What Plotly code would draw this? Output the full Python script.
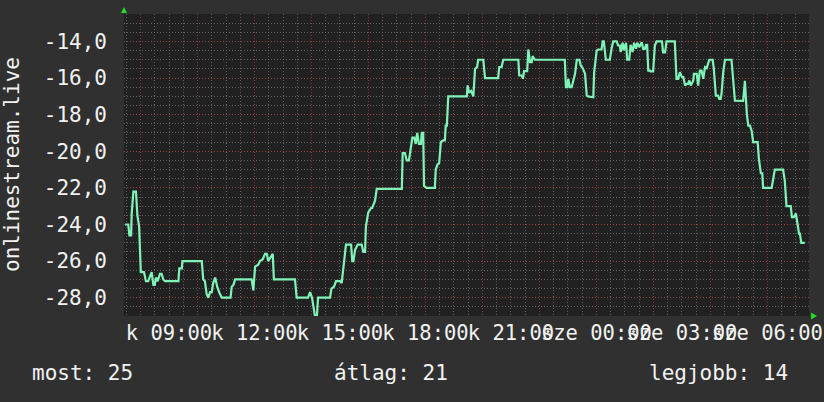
import plotly.graph_objects as go

# time in hours since Tuesday 00:00 (values > 24 are Wednesday)
hours = [7.46, 7.57, 7.61, 7.67, 7.69, 7.75, 7.84, 7.89, 7.95, 8.01, 8.12, 8.19, 8.27, 8.33, 8.39,
         8.45, 8.50, 8.54, 8.60, 8.68, 8.74, 8.80, 8.86, 9.33, 9.36, 9.45, 9.47, 10.15, 10.20, 10.26,
         10.32, 10.38, 10.44, 10.50, 10.55, 10.62, 10.69, 10.76, 10.85, 11.16, 11.20, 11.26, 11.32,
         11.90, 11.96, 12.02, 12.13, 12.19, 12.29, 12.37, 12.43, 12.48, 12.57, 12.64, 12.68, 13.42,
         13.48, 13.88, 13.95, 14.02, 14.12, 14.19, 14.23, 14.65, 14.70, 14.79, 14.86, 15.00, 15.06,
         15.11, 15.21, 15.39, 15.43, 15.47, 15.53, 15.62, 15.76, 15.82, 15.88, 15.91, 15.99, 16.09,
         16.13, 16.23, 16.29, 17.17, 17.20, 17.28, 17.34, 17.42, 17.49, 17.54, 17.61, 17.66, 17.71,
         17.77, 17.84, 17.87, 17.92, 17.95, 18.04, 18.33, 18.36, 18.43, 18.48, 18.54, 18.62, 18.68,
         18.71, 18.75, 18.80, 19.45, 19.48, 19.53, 19.60, 19.68, 19.74, 19.81, 19.85, 20.03, 20.09,
         20.55, 20.59, 20.67, 20.73, 21.26, 21.29, 21.39, 21.42, 21.46, 21.57, 21.61, 21.67, 21.73,
         21.76, 21.81, 21.84, 22.89, 22.93, 22.98, 23.01, 23.07, 23.13, 23.19, 23.25, 23.31, 23.40,
         23.45, 23.52, 23.60, 23.66, 23.71, 23.89, 23.92, 24.01, 24.06, 24.18, 24.22, 24.26, 24.33,
         24.47, 24.53, 24.59, 24.71, 24.76, 24.82, 24.85, 24.92, 24.96, 25.04, 25.08, 25.15, 25.20,
         25.27, 25.32, 25.39, 25.43, 25.50, 25.59, 25.64, 25.70, 25.74, 25.78, 25.82, 25.88, 25.90,
         25.99, 26.05, 26.11, 26.30, 26.34, 26.41, 26.46, 26.75, 26.81, 26.87, 26.93, 27.00, 27.05,
         27.11, 27.16, 27.22, 27.26, 27.31, 27.40, 27.42, 27.52, 27.57, 27.63, 27.69, 27.75, 27.81,
         27.87, 27.96, 28.08, 28.12, 28.19, 28.27, 28.31, 28.36, 28.39, 28.45, 28.51, 28.74, 28.80,
         28.86, 29.15, 29.21, 29.28, 29.33, 29.39, 29.45, 29.50, 29.66, 29.70, 29.77, 29.82, 29.85,
         30.15, 30.20, 30.26, 30.55, 30.61, 30.67, 30.82, 30.86, 30.93, 31.00, 31.05, 31.11, 31.14,
         31.19, 31.31]

values = [-24.0, -24.0, -24.6, -24.6, -23.4, -22.2, -22.2, -23.5, -24.1, -26.6, -26.6, -27.1, -27.1,
          -26.8, -26.6, -27.3, -27.3, -26.9, -27.1, -26.7, -26.7, -27.0, -27.1, -27.1, -26.4, -26.4,
          -26.0, -26.0, -27.0, -27.1, -27.8, -28.0, -27.7, -27.7, -27.2, -26.9, -27.4, -27.7, -28.0,
          -28.0, -27.4, -27.3, -27.0, -27.0, -27.6, -26.3, -26.2, -26.0, -25.9, -25.6, -25.6, -26.0,
          -25.8, -25.6, -27.0, -27.0, -28.0, -28.0, -27.7, -28.0, -29.0, -29.0, -28.0, -28.0, -27.5,
          -27.4, -27.1, -27.1, -27.2, -26.6, -25.1, -25.1, -26.0, -26.0, -25.4, -25.1, -25.1, -25.5,
          -25.5, -24.1, -23.35, -23.1, -23.1, -22.7, -22.05, -22.05, -20.1, -20.1, -20.5, -20.5, -19.9,
          -19.25, -19.25, -19.6, -19.0, -19.6, -19.6, -19.0, -19.0, -21.9, -22.0, -22.0, -21.0, -20.7,
          -20.65, -19.5, -19.4, -19.4, -18.6, -18.6, -17.0, -17.0, -16.4, -16.8, -16.7, -17.0, -15.5,
          -15.4, -15.0, -15.0, -16.0, -16.0, -15.4, -15.4, -15.0, -15.0, -15.86, -15.86, -16.04, -15.62,
          -15.62, -14.44, -15.13, -15.13, -14.8, -14.91, -15.0, -15.0, -16.5, -16.5, -16.04, -16.5,
          -16.5, -16.13, -15.77, -15.0, -15.0, -15.31, -15.46, -15.77, -16.96, -17.0, -17.05, -15.68,
          -14.49, -14.44, -14.44, -14.0, -14.0, -15.0, -15.0, -14.4, -14.0, -14.0, -14.22, -14.22,
          -14.58, -14.07, -14.49, -14.07, -15.0, -15.0, -14.18, -14.58, -14.07, -14.4, -14.07, -14.31,
          -14.04, -14.4, -14.4, -14.18, -14.18, -15.59, -15.59, -15.64, -15.64, -14.22, -14.0, -14.0,
          -14.6, -14.6, -14.0, -14.0, -16.04, -16.04, -15.68, -15.95, -15.95, -16.41, -16.32, -16.32,
          -16.13, -16.41, -16.13, -15.77, -15.77, -16.41, -15.59, -15.59, -16.04, -15.4, -15.46, -15.0,
          -15.0, -15.5, -16.96, -16.96, -17.14, -17.14, -16.86, -15.68, -15.0, -15.0, -16.04, -17.23,
          -17.25, -16.15, -18.0, -18.6, -18.6, -18.9, -19.5, -19.5, -20.4, -21.2, -21.2, -22.0, -22.0,
          -21.6, -21.0, -21.0, -21.6, -23.0, -23.0, -23.6, -23.6, -23.4, -23.95, -24.5, -24.5, -25.0,
          -25.0]

x_tick_vals = [9, 12, 15, 18, 21, 24, 27, 30]
x_tick_text = ["k 09:00", "k 12:00", "k 15:00", "k 18:00", "k 21:00",
               "sze 00:00", "sze 03:00", "sze 06:00"]
y_tick_vals = [-28, -26, -24, -22, -20, -18, -16, -14]
y_tick_text = ["-28,0", "-26,0", "-24,0", "-22,0", "-20,0", "-18,0", "-16,0", "-14,0"]

series_name = "onlinestream.live"
legend_texts = ["most: 25", "átlag: 21", "legjobb: 14"]

X_RANGE = [7.42, 31.46]
Y_RANGE = [-29.0, -12.5]

FONT = "DejaVu Sans Mono"
TXT = "#f2f2f2"
RED = "rgba(150,62,62,0.9)"
GREY = "rgba(100,100,100,0.95)"
DOT = "1px,2px"
XAXIS_FS = 20.5
YAXIS_FS = 21
LEG_FS = 21

fig = go.Figure()
fig.add_trace(go.Scatter(x=hours, y=values, mode="lines",
                         line=dict(color="#80f4b8", width=2.2), hoverinfo="skip",
                         showlegend=False))
# invisible trace on the grid axis so it is drawn
fig.add_trace(go.Scatter(x=[X_RANGE[0]], y=[Y_RANGE[0]], xaxis="x2", mode="markers",
                         marker=dict(opacity=0), showlegend=False, hoverinfo="skip"))

fig.update_layout(
    width=824, height=402,
    margin=dict(l=124, r=15, t=14, b=86, autoexpand=False),
    paper_bgcolor="#303030", plot_bgcolor="#212121",
    font=dict(family=FONT, size=20, color=TXT),
    showlegend=False,
    xaxis=dict(range=X_RANGE, tickmode="array", tickvals=x_tick_vals, ticktext=x_tick_text,
               tickangle=0, showgrid=False, zeroline=False, ticks="", ticklabelstandoff=2,
               automargin=False,
               tickfont=dict(family=FONT, size=XAXIS_FS, color=TXT),
               showline=False),
    xaxis2=dict(range=X_RANGE, overlaying="x", side="bottom", showticklabels=False,
                automargin=False,
                tickmode="linear", tick0=0, dtick=2, showgrid=True, gridcolor=RED,
                griddash=DOT, gridwidth=1, zeroline=False, ticks="",
                minor=dict(tickmode="linear", tick0=0, dtick=0.5, showgrid=True,
                           gridcolor=GREY, griddash=DOT, gridwidth=1)),
    yaxis=dict(range=Y_RANGE, tickmode="array", tickvals=y_tick_vals, ticktext=y_tick_text,
               showgrid=True, gridcolor=RED, griddash=DOT, gridwidth=1, zeroline=False,
               ticks="", ticklabelstandoff=16, automargin=False,
               tickfont=dict(family=FONT, size=YAXIS_FS, color=TXT),
               minor=dict(tickmode="linear", tick0=0, dtick=0.5, showgrid=True,
                          gridcolor=GREY, griddash=DOT, gridwidth=1)),
)

# y-axis title
fig.add_annotation(text=series_name, xref="paper", yref="paper", x=-0.1635, y=0.5,
                   textangle=-90, showarrow=False, xanchor="center", yanchor="middle",
                   font=dict(family=FONT, size=LEG_FS, color=TXT))

# bottom legend line
legend_x = [-0.1372, 0.3036, 0.7635]
for txt, lx in zip(legend_texts, legend_x):
    fig.add_annotation(text=txt, xref="paper", yref="paper", x=lx, y=-0.1887,
                       xanchor="left", yanchor="middle", showarrow=False,
                       font=dict(family=FONT, size=LEG_FS, color=TXT))

# axis arrows (green), in paper coordinates
def px2paper(px, py):
    return (px - 124) / 685.0, (316 - py) / 302.0

ax1, ay1 = px2paper(121, 13)
ax2, ay2 = px2paper(127, 13)
ax3, ay3 = px2paper(124, 7)
fig.add_shape(type="path", xref="paper", yref="paper",
              path=f"M {ax1} {ay1} L {ax2} {ay2} L {ax3} {ay3} Z",
              fillcolor="#22dd22", line=dict(width=0))
bx1, by1 = px2paper(811, 312.5)
bx2, by2 = px2paper(811, 319.5)
bx3, by3 = px2paper(817, 316)
fig.add_shape(type="path", xref="paper", yref="paper",
              path=f"M {bx1} {by1} L {bx2} {by2} L {bx3} {by3} Z",
              fillcolor="#22dd22", line=dict(width=0))

fig.write_html("out.html", config={"displayModeBar": False},
               post_script="document.body.style.margin='0';document.body.style.background='#303030';")
